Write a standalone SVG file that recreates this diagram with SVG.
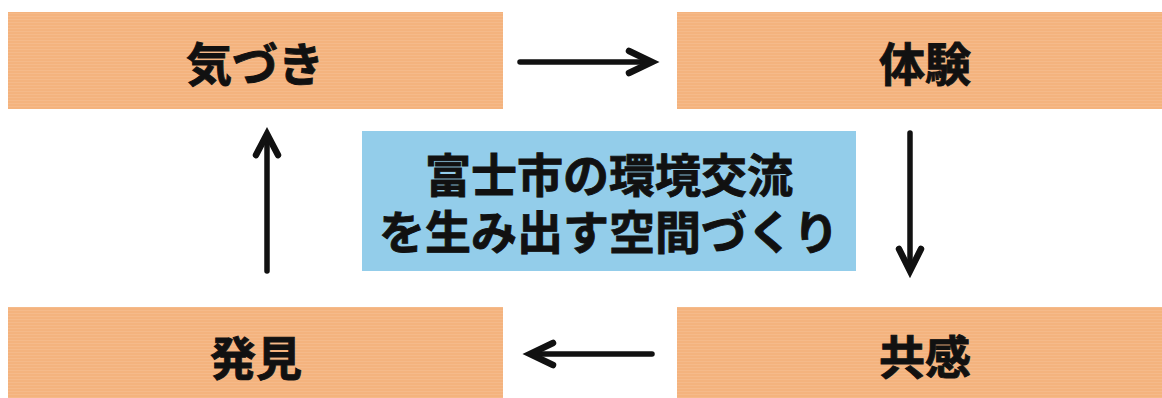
<svg xmlns="http://www.w3.org/2000/svg" width="1162" height="398" viewBox="0 0 1162 398">
  <defs>
    <pattern id="orangeTex" width="6" height="3" patternUnits="userSpaceOnUse">
      <rect width="6" height="3" fill="#F4B37E"/>
      <rect y="1" width="6" height="1" fill="#F6BE8F" opacity="0.7"/>
    </pattern>
    <style>
      .box { fill: url(#orangeTex); }
      .center { fill: #93CDEA; }
      .label { font-family: "Noto Sans CJK JP", "Noto Sans", sans-serif; font-weight: bold; font-size: 46px; fill: #111; stroke: #111; stroke-width: 0.9; text-anchor: middle; dominant-baseline: central; }
      .arrow { fill: none; stroke: #111; stroke-width: 5.5; stroke-linecap: round; stroke-linejoin: round; }
      .head { fill: none; stroke: #111; stroke-width: 6.5; stroke-linecap: round; stroke-linejoin: miter; }
    </style>
  </defs>
  <rect width="1162" height="398" fill="#FFFFFF"/>

  <g id="node-kizuki">
    <rect class="box" x="8" y="12" width="495" height="97"/>
    <text class="label" x="255" y="61">気づき</text>
  </g>
  <g id="node-taiken">
    <rect class="box" x="677" y="12" width="485" height="97"/>
    <text class="label" x="925" y="61">体験</text>
  </g>
  <g id="node-hakken">
    <rect class="box" x="8" y="307" width="495" height="91"/>
    <text class="label" x="256" y="355">発見</text>
  </g>
  <g id="node-kyokan">
    <rect class="box" x="677" y="307" width="485" height="91"/>
    <text class="label" x="925" y="354">共感</text>
  </g>
  <g id="node-center">
    <rect class="center" x="362" y="131" width="494" height="140"/>
    <text class="label" x="609" y="172"><tspan x="609" y="172">富士市の環境交流</tspan><tspan x="609" y="229">を生み出す空間づくり</tspan></text>
  </g>

  <g id="connectors">
    <path class="arrow" d="M520 62 H650"/>
    <path class="head" d="M629 51 L652 62 L629 73"/>
    <path class="arrow" d="M910 133 V268"/>
    <path class="head" d="M899 249 L910 271 L921 249"/>
    <path class="arrow" d="M652 354 H533"/>
    <path class="head" d="M553 343 L530 354 L553 365"/>
    <path class="arrow" d="M267 271 V137"/>
    <path class="head" d="M256 155 L267 134 L278 155"/>
  </g>
</svg>
